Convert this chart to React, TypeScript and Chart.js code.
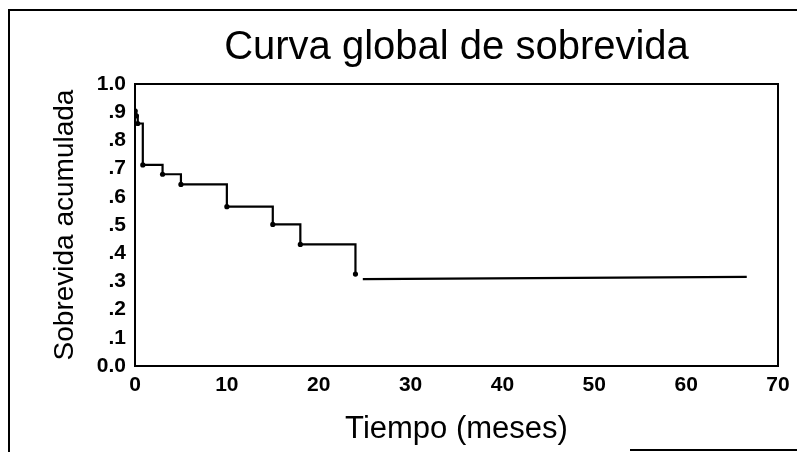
import React, { useEffect, useRef } from "react";
import { Chart, registerables } from "chart.js";

Chart.register(...registerables);

const chartTitle = "Curva global de sobrevida";
const yAxisTitle = "Sobrevida acumulada";
const xAxisTitle = "Tiempo (meses)";

// Kaplan-Meier steps (months, cumulative survival)
const stepTimes = [0, 0.15, 0.3, 0.85, 3, 5, 10, 15, 18, 24];
const stepSurvival = [0.905, 0.887, 0.86, 0.713, 0.68, 0.644, 0.565, 0.502, 0.431, 0.326];
// final plateau
const tailTimes = [24.8, 66.6];
const tailSurvival = [0.308, 0.316];

const xTickValues = [0, 10, 20, 30, 40, 50, 60, 70];
const yTickLabels = ["0.0", ".1", ".2", ".3", ".4", ".5", ".6", ".7", ".8", ".9", "1.0"];

const FONT = "'Liberation Sans', Arial, sans-serif";

const PLOT_LEFT = 135;
const Y_TITLE_SIZE = 28;

const framePlugin = {
  id: "frame",
  afterDraw(chart: any) {
    const { ctx, chartArea } = chart;
    ctx.save();
    ctx.strokeStyle = "#000";
    ctx.lineWidth = 2;
    ctx.beginPath();
    ctx.moveTo(chartArea.left, chartArea.top);
    ctx.lineTo(chartArea.right, chartArea.top);
    ctx.lineTo(chartArea.right, chartArea.bottom);
    ctx.stroke();
    ctx.beginPath();
    ctx.moveTo(9, 452);
    ctx.lineTo(9, 10);
    ctx.lineTo(797, 10);
    ctx.stroke();
    ctx.beginPath();
    ctx.moveTo(630, 450);
    ctx.lineTo(797, 450);
    ctx.stroke();
    ctx.restore();
  },
};

export default function App() {
  const ref = useRef<HTMLCanvasElement | null>(null);

  useEffect(() => {
    if (!ref.current) return;
    const chart = new Chart(ref.current, {
      type: "line",
      data: {
        datasets: [
          {
            data: stepTimes.map((t, i) => ({ x: t, y: stepSurvival[i] })),
            stepped: "before",
            borderColor: "#000",
            borderWidth: 2.2,
            pointRadius: 2.6,
            pointBackgroundColor: "#000",
            pointBorderColor: "#000",
            pointBorderWidth: 0,
            fill: false,
          },
          {
            data: tailTimes.map((t, i) => ({ x: t, y: tailSurvival[i] })),
            borderColor: "#000",
            borderWidth: 2.2,
            pointRadius: 0,
            fill: false,
          },
        ],
      },
      options: {
        animation: false,
        responsive: false,
        layout: { padding: { left: 0, right: 19, top: 0, bottom: 0 } },
        plugins: {
          legend: { display: false },
          tooltip: { enabled: false },
          title: {
            display: true,
            fullSize: false,
            text: chartTitle,
            color: "#000",
            font: { family: FONT, size: 40, weight: "normal" },
            padding: { top: 24, bottom: 12 },
          },
        },
        scales: {
          x: {
            type: "linear",
            min: 0,
            max: 70,
            afterBuildTicks(scale: any) {
              scale.ticks = xTickValues.map((v) => ({ value: v }));
            },
            afterFit(scale: any) {
              scale.height = 86;
            },
            grid: { display: false, drawTicks: true, tickLength: 3, tickColor: "#000", tickWidth: 2 },
            border: { display: true, color: "#000", width: 2 },
            ticks: {
              color: "#000",
              padding: 4,
              maxRotation: 0,
              autoSkip: false,
              font: { family: FONT, size: 21, weight: "bold" },
              callback: (v: any) => String(v),
            },
            title: {
              display: true,
              text: xAxisTitle,
              color: "#000",
              font: { family: FONT, size: 31 },
              padding: { top: 4, bottom: 4 },
            },
          },
          y: {
            type: "linear",
            min: 0,
            max: 1,
            afterBuildTicks(scale: any) {
              scale.ticks = yTickLabels.map((_, i) => ({ value: i / 10 }));
            },
            afterFit(scale: any) {
              scale.width = PLOT_LEFT;
            },
            grid: { display: false, drawTicks: true, tickLength: 4, tickColor: "#000", tickWidth: 2 },
            border: { display: true, color: "#000", width: 2 },
            ticks: {
              color: "#000",
              padding: 5,
              autoSkip: false,
              font: { family: FONT, size: 21, weight: "bold" },
              callback: (v: any) => yTickLabels[Math.round(Number(v) * 10)] ?? "",
            },
            title: {
              display: true,
              text: yAxisTitle,
              color: "#000",
              font: { family: FONT, size: Y_TITLE_SIZE },
              padding: { top: 65 - (Y_TITLE_SIZE * 1.2) / 2, bottom: 4 },
            },
          },
        },
      },
      plugins: [framePlugin],
    } as any);
    return () => chart.destroy();
  }, []);

  return (
    <div style={{ position: "fixed", left: 0, top: 0, width: 797, height: 452, background: "#fff" }}>
      <canvas ref={ref} width={797} height={452} />
    </div>
  );
}
